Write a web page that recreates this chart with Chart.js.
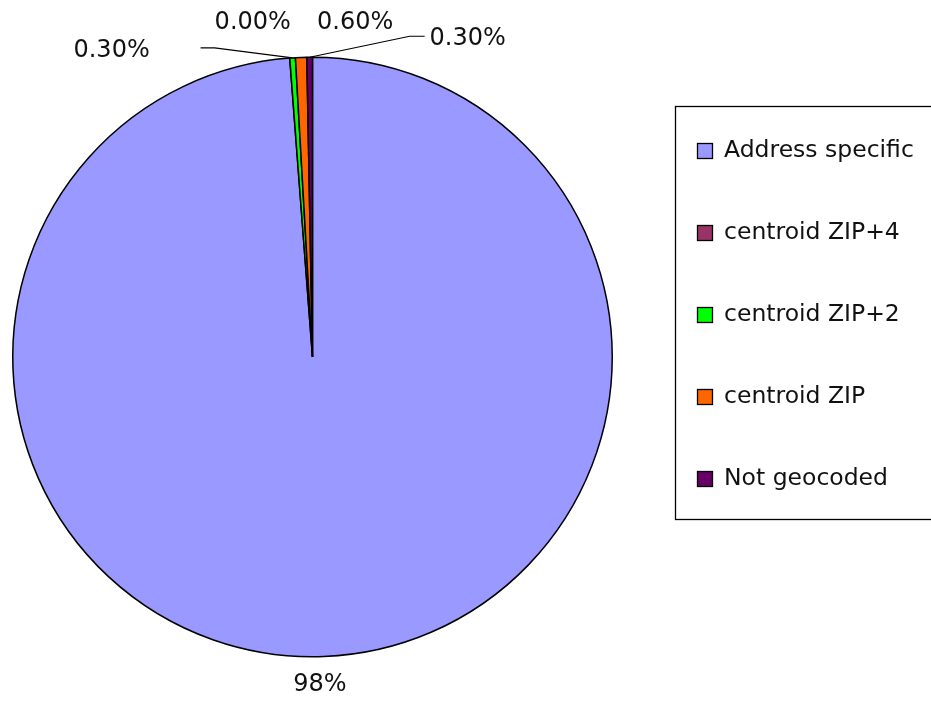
<!DOCTYPE html>
<html>
<head>
<meta charset="utf-8">
<script src="https://cdn.jsdelivr.net/npm/chart.js@4.4.1/dist/chart.umd.min.js"></script>
<style>
  html, body { margin: 0; padding: 0; background: #ffffff; }
  #wrap { width: 931px; height: 702px; overflow: hidden; }
  canvas { display: block; }
</style>
</head>
<body>
<div id="wrap"><canvas id="chart" width="931" height="702"></canvas></div>
<script>
// Geocoding result categories and their shares (percent)
const categories = ['Address specific', 'centroid ZIP+4', 'centroid ZIP+2', 'centroid ZIP', 'Not geocoded'];
const shares = [98, 0.0, 0.3, 0.6, 0.3];
const valueLabels = ['98%', '0.00%', '0.30%', '0.60%', '0.30%'];
const sliceColors = ['#9999FF', '#993366', '#00FF00', '#FF6600', '#660066'];

// Label placement relative to each slice's outer mid-point (dx, dy of the text centre),
// with optional leader-line bend points given the same way.
const labelPlacement = [
  { dx: -4,   dy: 28,  leader: null },
  { dx: -37,  dy: -35, leader: null },
  { dx: -181, dy: -7,  leader: [[-92, -10], [-78, -10]] },
  { dx: 54,   dy: -35, leader: null },
  { dx: 158,  dy: -18, leader: [[115, -21], [100, -21]] }
];

const FONT = '"DejaVu Sans", Verdana, sans-serif';

// Data labels around the pie
const pieLabels = {
  id: 'pieLabels',
  afterDatasetsDraw(chart) {
    const ctx = chart.ctx;
    const arcs = chart.getDatasetMeta(0).data;
    ctx.save();
    ctx.font = '24px ' + FONT;
    ctx.fillStyle = '#111111';
    ctx.textAlign = 'center';
    ctx.textBaseline = 'middle';
    ctx.strokeStyle = '#000000';
    ctx.lineWidth = 1.2;
    arcs.forEach((arc, i) => {
      const p = arc.getProps(['x', 'y', 'startAngle', 'endAngle', 'outerRadius'], true);
      const mid = (p.startAngle + p.endAngle) / 2;
      const ax = p.x + Math.cos(mid) * p.outerRadius;
      const ay = p.y + Math.sin(mid) * p.outerRadius;
      const place = labelPlacement[i];
      if (place.leader) {
        ctx.beginPath();
        ctx.moveTo(ax + place.leader[0][0], ay + place.leader[0][1]);
        for (let k = 1; k < place.leader.length; k++) {
          ctx.lineTo(ax + place.leader[k][0], ay + place.leader[k][1]);
        }
        ctx.lineTo(ax, ay);
        ctx.stroke();
      }
      ctx.fillText(valueLabels[i], ax + place.dx, ay + place.dy);
    });
    ctx.restore();
  }
};

// Boxed legend on the right
const legendBox = {
  id: 'legendBox',
  afterDraw(chart) {
    const ctx = chart.ctx;
    const box = { left: 675.5, top: 106.5, width: 300, height: 413 };
    const firstRow = 150, rowStep = 82, markX = 697.5, markSize = 15, textX = 724;
    ctx.save();
    ctx.strokeStyle = '#000000';
    ctx.lineWidth = 1.3;
    ctx.strokeRect(box.left, box.top, box.width, box.height);
    ctx.font = '23.5px ' + FONT;
    ctx.textAlign = 'left';
    ctx.textBaseline = 'middle';
    const colors = chart.data.datasets[0].backgroundColor;
    chart.data.labels.forEach((name, i) => {
      const cy = firstRow + i * rowStep;
      ctx.fillStyle = colors[i];
      ctx.fillRect(markX, Math.round(cy - markSize / 2) + 0.5, markSize, markSize);
      ctx.strokeRect(markX, Math.round(cy - markSize / 2) + 0.5, markSize, markSize);
      ctx.fillStyle = '#111111';
      ctx.fillText(name, textX, cy + 1);
    });
    ctx.restore();
  }
};

new Chart(document.getElementById('chart'), {
  type: 'pie',
  data: {
    labels: categories,
    datasets: [{
      data: shares,
      backgroundColor: sliceColors,
      borderColor: '#000000',
      borderWidth: 1.5
    }]
  },
  options: {
    responsive: false,
    animation: false,
    devicePixelRatio: 1,
    layout: { padding: { left: 12, top: 56, right: 318, bottom: 44 } },
    plugins: {
      legend: { display: false },
      tooltip: { enabled: false }
    }
  },
  plugins: [pieLabels, legendBox]
});
</script>
</body>
</html>
